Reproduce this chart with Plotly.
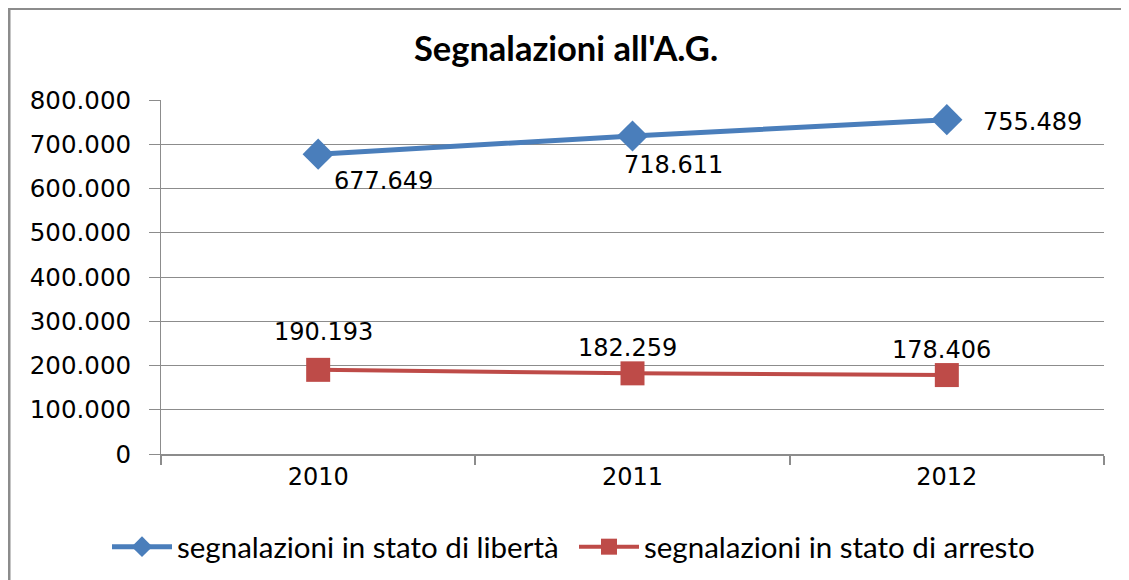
import plotly.graph_objects as go

years = ["2010", "2011", "2012"]
liberta = [677649, 718611, 755489]
arresto = [190193, 182259, 178406]
name_liberta = "segnalazioni in stato di libertà"
name_arresto = "segnalazioni in stato di arresto"
title_text = "Segnalazioni all'A.G."

blue = "#4a7ebb"
red = "#be4b48"
grid = "#8c8c8c"

fig = go.Figure()
fig.add_trace(go.Scatter(
    x=years, y=liberta, name=name_liberta, mode="lines+markers",
    line=dict(color=blue, width=5),
    marker=dict(symbol="diamond", size=24, color=blue),
))
fig.add_trace(go.Scatter(
    x=years, y=arresto, name=name_arresto, mode="lines+markers",
    line=dict(color=red, width=4),
    marker=dict(symbol="square", size=24, color=red),
))

label_font = dict(family="DejaVu Sans", size=24, color="#000000")
# label offsets (px) per point: styling only
blue_shift = [(65, -27), (41, -29), (86, -2)]
red_shift = [(5, 38), (-5, 25), (-5, 25)]
for ys, shifts in ((liberta, blue_shift), (arresto, red_shift)):
    for i, (yv, (dx, dy)) in enumerate(zip(ys, shifts)):
        fig.add_annotation(
            x=i, y=yv, xref="x", yref="y",
            text=f"{yv:,}".replace(",", "."),
            showarrow=False, xshift=dx, yshift=dy,
            font=label_font, xanchor="center", yanchor="middle",
        )

# page has an 8px body margin; figure coordinates are page - 8
W, H = 1129, 580
L, R, T, B = 153, 33, 92, 134
pw, ph = W - L - R, H - T - B
def px2x(p):
    return (p - L) / pw
def py2y(p):
    return (H - B - p) / ph
fig.add_shape(type="line", xref="paper", yref="paper",
              x0=px2x(0), x1=px2x(W + 5), y0=py2y(0.5), y1=py2y(0.5),
              line=dict(color="#8c8c8c", width=3))
fig.add_shape(type="line", xref="paper", yref="paper",
              x0=px2x(1), x1=px2x(1), y0=py2y(0), y1=py2y(H + 5),
              line=dict(color="#8c8c8c", width=3))

fig.update_layout(
    width=W, height=H,
    margin=dict(l=L, r=R, t=T, b=B),
    paper_bgcolor="white", plot_bgcolor="white",
    separators=",.",
    title=dict(text=f"<b>{title_text}</b>", x=558 / W, xref="container",
               y=1 - 41 / H, yref="container", xanchor="center", yanchor="middle",
               font=dict(family="Lato", size=34.5, color="#000000")),
    showlegend=True,
    legend=dict(orientation="h", x=566 / W, xref="container", xanchor="center",
                y=(H - 539) / H, yref="container", yanchor="middle",
                font=dict(family="Lato", size=29.5, color="#000000"),
                itemwidth=60, entrywidth=392, entrywidthmode="pixels",
                bgcolor="rgba(0,0,0,0)"),
    xaxis=dict(
        type="category", range=[-0.5, 2.5],
        showline=True, linecolor=grid, linewidth=2,
        ticks="outside", tickson="boundaries", ticklen=9, tickcolor=grid, tickwidth=2,
        showgrid=False,
        tickfont=dict(family="DejaVu Sans", size=24, color="#000000"),
        fixedrange=True,
    ),
    yaxis=dict(
        range=[0, 800000], dtick=100000, tickformat=",.0f",
        showline=True, linecolor=grid, linewidth=1,
        showgrid=True, gridcolor=grid, gridwidth=1,
        ticks="outside", ticklen=11, tickcolor=grid,
        zeroline=False,
        tickfont=dict(family="DejaVu Sans", size=24.5, color="#000000"),
        ticklabelstandoff=13,
    ),
)

fig.write_html("out.html")
